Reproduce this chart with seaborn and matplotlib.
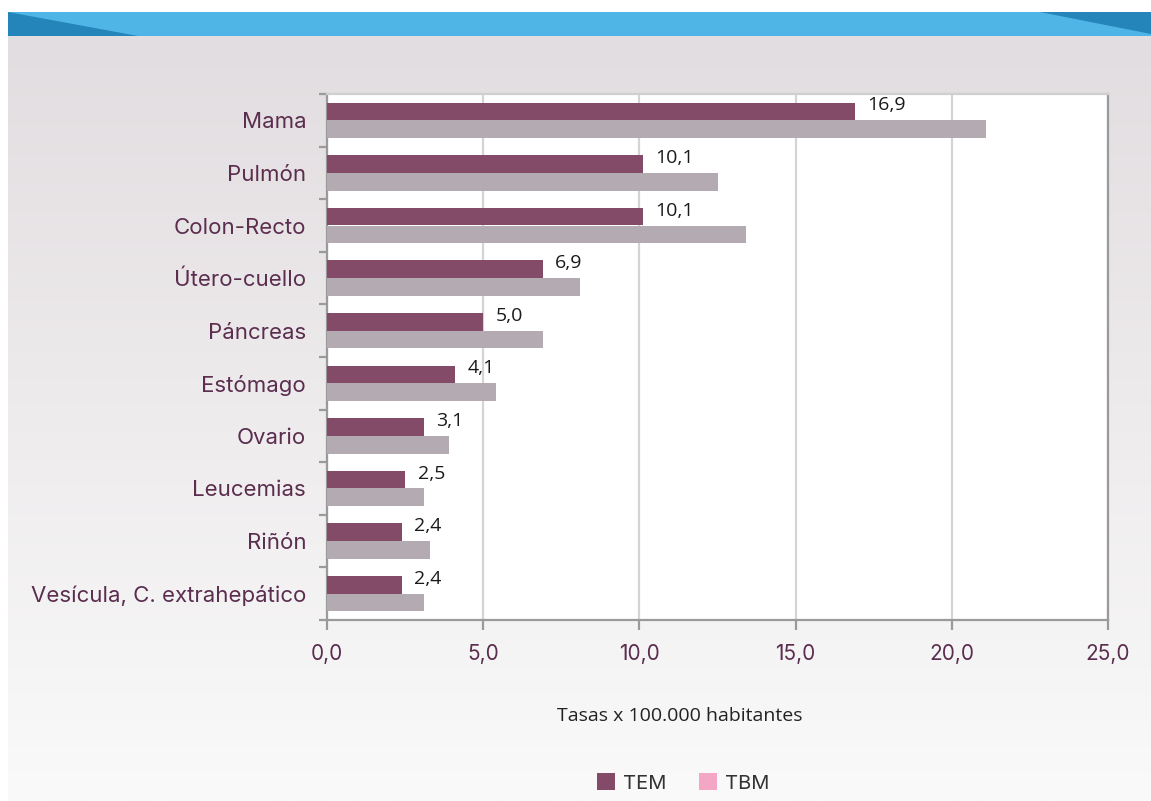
import numpy as np
import pandas as pd
import matplotlib
matplotlib.use("Agg")
import matplotlib.pyplot as plt
from matplotlib.patches import Patch, Polygon, Rectangle
from matplotlib.ticker import FixedLocator, FuncFormatter
import seaborn as sns

# Mortality rates by cancer site (per 100.000 inhabitants)
sitios = ["Mama", "Pulmón", "Colon-Recto", "Útero-cuello", "Páncreas",
          "Estómago", "Ovario", "Leucemias", "Riñón", "Vesícula, C. extrahepático"]
tem = [16.9, 10.1, 10.1, 6.9, 5.0, 4.1, 3.1, 2.5, 2.4, 2.4]
tbm = [21.1, 12.5, 13.4, 8.1, 6.9, 5.4, 3.9, 3.1, 3.3, 3.1]
series = ["TEM", "TBM"]
bar_colors = ["#834b68", "#b4aab2"]
legend_colors = ["#834b68", "#f4a7c4"]
x_ticks = [0, 5, 10, 15, 20, 25]
x_label = "Tasas x 100.000 habitantes"

df = pd.DataFrame({
    "sitio": sitios * 2,
    "tasa": tem + tbm,
    "serie": ["TEM"] * len(sitios) + ["TBM"] * len(sitios),
})

sns.set_theme(style="white")
plt.rcParams["font.family"] = ["Inter", "DejaVu Sans"]

W, H = 1151, 801
fig = plt.figure(figsize=(W / 100, H / 100), dpi=100)
fig.patch.set_facecolor("white")

# Background panel with vertical gradient and blue header band
bg = fig.add_axes([0, 0, 1, 1], zorder=-10)
bg.set_xlim(0, W)
bg.set_ylim(H, 0)
bg.axis("off")
grad = np.linspace(0, 1, 256).reshape(-1, 1)
top_c = np.array([0xe2, 0xdd, 0xe0]) / 255
bot_c = np.array([0xfa, 0xfa, 0xfa]) / 255
img = top_c[None, None, :] * (1 - grad[..., None]) + bot_c[None, None, :] * grad[..., None]
bg.imshow(img, extent=[8, W, H, 36], aspect="auto", interpolation="bilinear")
bg.add_patch(Rectangle((8, 12), W - 8, 24, facecolor="#4fb5e6", edgecolor="none"))
bg.add_patch(Polygon([(8, 12), (138, 36), (8, 36)], closed=True,
                     facecolor="#2385ba", edgecolor="none"))
bg.add_patch(Polygon([(1040, 12), (W, 12), (W, 34)], closed=True,
                     facecolor="#2385ba", edgecolor="none"))

ax = fig.add_axes([327 / W, 1 - 620 / H, (1108 - 327) / W, (620 - 94) / H])
ax.set_facecolor("white")

sns.barplot(data=df, y="sitio", x="tasa", hue="serie", hue_order=series,
            palette=bar_colors, orient="h", width=0.67, saturation=1,
            linewidth=0, edgecolor="none", ax=ax, legend=False, zorder=3)

ax.set_xlim(0, 25)
ax.set_ylim(len(sitios) - 0.5, -0.5)
ax.set_xticks(x_ticks)
ax.xaxis.set_major_formatter(FuncFormatter(lambda v, p: f"{v:.1f}".replace(".", ",")))
ax.grid(axis="x", color="#d4d4d4", linewidth=1.6, zorder=0)
ax.set_axisbelow(True)

# Category boundaries get tick marks; labels sit at the category centres
ax.yaxis.set_major_locator(FixedLocator(np.arange(-0.5, len(sitios), 1.0)))
ax.yaxis.set_major_formatter(FuncFormatter(lambda v, p: ""))
ax.yaxis.set_minor_locator(FixedLocator(np.arange(len(sitios))))
ax.set_yticklabels(sitios, minor=True)
ax.tick_params(axis="y", which="major", length=6, width=1.6, color="#9a9a9a", left=True)
ax.tick_params(axis="y", which="minor", length=0, pad=15, labelsize=16,
               labelcolor="#5b2d4f")
ax.tick_params(axis="x", which="major", length=7, width=1.6, color="#9a9a9a",
               bottom=True, pad=10, labelsize=15, labelcolor="#5b2d4f")
ax.set_xlabel("")
ax.set_ylabel("")

for side in ["left", "bottom", "right"]:
    ax.spines[side].set_color("#9a9a9a")
    ax.spines[side].set_linewidth(1.6)
ax.spines["top"].set_color("#cfcfcf")
ax.spines["top"].set_linewidth(1.6)

# Value labels for the TEM series
tem_bars = ax.containers[0]
for rect, v in zip(tem_bars, tem):
    ax.annotate(f"{v:.1f}".replace(".", ","),
                xy=(rect.get_x() + rect.get_width(), rect.get_y()),
                xytext=(9, -2), textcoords="offset points",
                ha="left", va="center", fontsize=14, color="#1a1a1a",
                family=["Open Sans", "DejaVu Sans"], zorder=5)

fig.text(680 / W, 1 - 716 / H, x_label, ha="center", va="center",
         fontsize=14, color="#222222", family=["Open Sans", "DejaVu Sans"])

handles = [Patch(facecolor=c, edgecolor="none", label=s)
           for s, c in zip(series, legend_colors)]
fig.legend(handles=handles, loc="center", bbox_to_anchor=(683 / W, 1 - 783 / H),
           ncol=2, frameon=False, fontsize=14.5, handlelength=0.9, handleheight=0.9,
           handletextpad=0.4, columnspacing=1.6, labelcolor="#333333")

fig.savefig("out.png", dpi=100)
